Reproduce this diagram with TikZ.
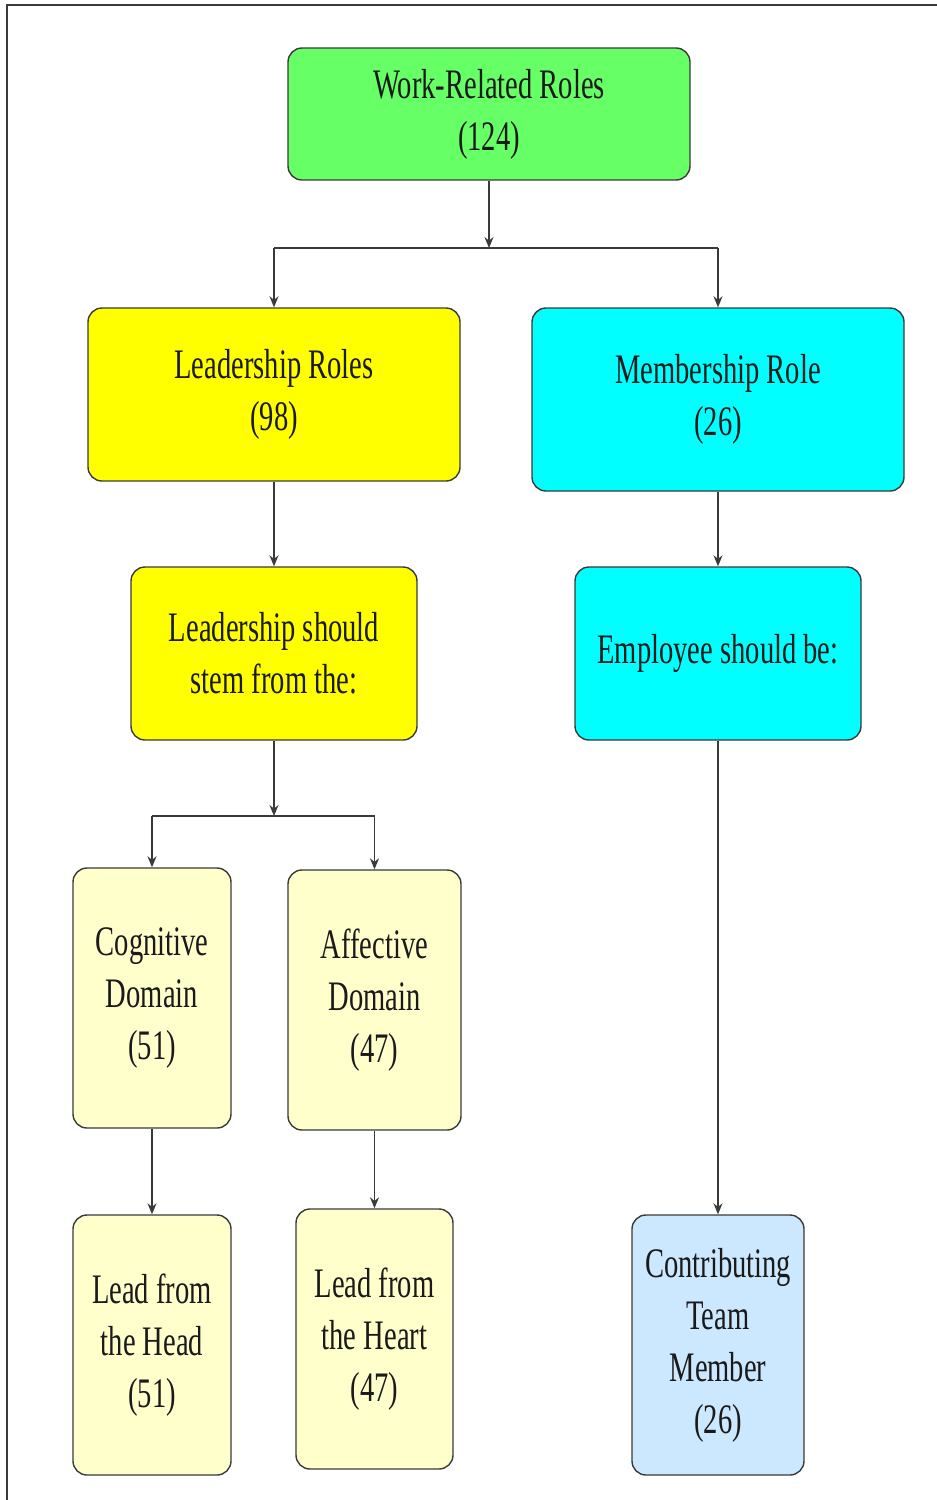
\documentclass[tikz,border=0pt]{standalone}
\usepackage{fontspec}
\setmainfont{Liberation Serif}[FakeStretch=0.68]
\usetikzlibrary{arrows.meta}
\definecolor{boxgreen}{HTML}{66FF66}
\definecolor{boxyellow}{HTML}{FFFF00}
\definecolor{boxcyan}{HTML}{00FFFF}
\definecolor{boxcream}{HTML}{FFFFCC}
\definecolor{boxblue}{HTML}{CCE8FF}
\definecolor{edge}{HTML}{3A3A3A}
\definecolor{ink}{HTML}{1A1A1A}
\tikzset{
  rolebox/.style={draw=edge, line width=1.4pt, rounded corners=14pt, align=center,
    text=ink, font=\fontsize{42}{52}\selectfont, inner sep=0pt},
  link/.style={draw=edge, line width=1.6pt},
  arrowlink/.style={link, -{Stealth[length=11pt, width=9pt]}},
}
\begin{document}
\begin{tikzpicture}[x=1pt, y=-1pt]
\useasboundingbox (0,0) rectangle (937,1500);
% frame edges
\draw[line width=2pt, edge] (7,1500) -- (7,5) -- (937,5);

% boxes
\node[rolebox, fill=boxgreen, minimum width=402pt, minimum height=132pt] (top) at (489,114) {Work-Related Roles\\(124)};
\node[rolebox, fill=boxyellow, minimum width=372pt, minimum height=173pt] (lead) at (274,394.5) {Leadership Roles\\(98)};
\node[rolebox, fill=boxcyan, minimum width=372pt, minimum height=183pt] (memb) at (718,399.5) {Membership Role\\(26)};
\node[rolebox, fill=boxyellow, minimum width=286pt, minimum height=173pt] (stem) at (274,653.5) {Leadership should\\stem from the:};
\node[rolebox, fill=boxcyan, minimum width=286pt, minimum height=173pt] (empl) at (718,653.5) {Employee should be:};
\node[rolebox, fill=boxcream, minimum width=158pt, minimum height=260pt] (cog) at (152,998) {Cognitive\\Domain\\(51)};
\node[rolebox, fill=boxcream, minimum width=173pt, minimum height=260pt] (aff) at (374.5,1000) {Affective\\Domain\\(47)};
\node[rolebox, fill=boxcream, minimum width=158pt, minimum height=260pt] (head) at (152,1345) {Lead from\\the Head\\(51)};
\node[rolebox, fill=boxcream, minimum width=157pt, minimum height=260pt] (heart) at (374.5,1339) {Lead from\\the Heart\\(47)};
\node[rolebox, fill=boxblue, minimum width=172pt, minimum height=260pt] (contrib) at (718,1345) {Contributing\\Team\\Member\\(26)};

% junction points
\coordinate (j1) at (489,248);
\coordinate (j2) at (274,816);

% connectors
\draw[arrowlink] (top) -- (j1);
\draw[link] (lead.north |- j1) -- (memb.north |- j1);
\draw[arrowlink] (lead.north |- j1) -- (lead.north);
\draw[arrowlink] (memb.north |- j1) -- (memb.north);
\draw[arrowlink] (lead) -- (stem);
\draw[arrowlink] (memb) -- (empl);
\draw[arrowlink] (stem) -- (j2);
\draw[link] (cog.north |- j2) -- (aff.north |- j2);
\draw[arrowlink] (cog.north |- j2) -- (cog.north);
\draw[arrowlink] (aff.north |- j2) -- (aff.north);
\draw[arrowlink] (cog) -- (head);
\draw[arrowlink] (aff) -- (heart);
\draw[arrowlink] (empl) -- (contrib);
\end{tikzpicture}
\end{document}
